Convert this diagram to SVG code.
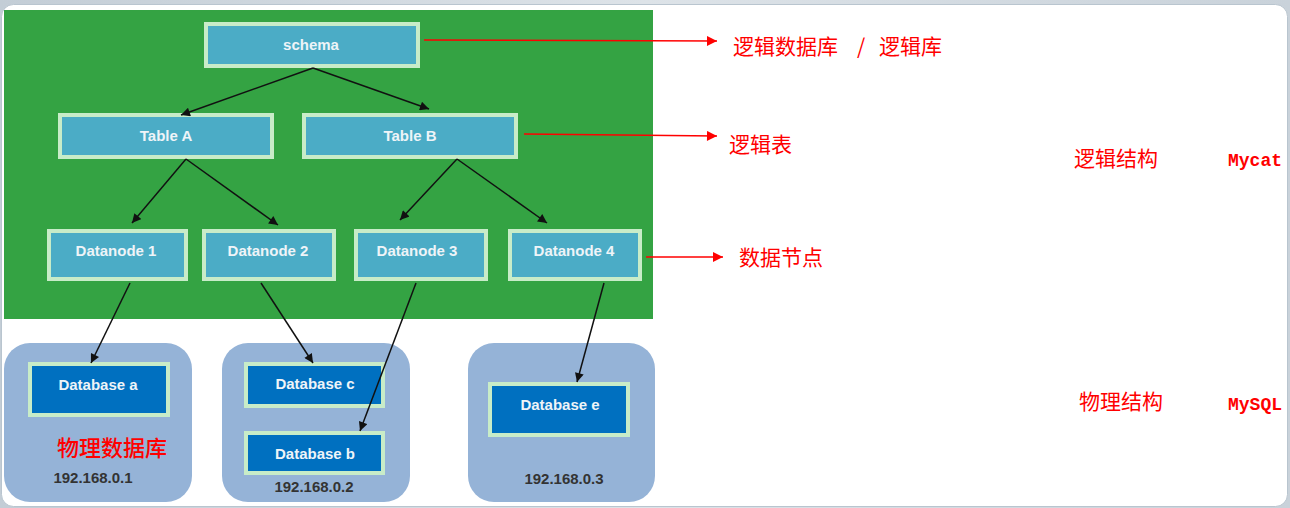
<svg xmlns="http://www.w3.org/2000/svg" width="1290" height="508" viewBox="0 0 1290 508">
<defs>
<marker id="ah" viewBox="0 0 10 10" refX="10" refY="5" markerWidth="10" markerHeight="9" markerUnits="userSpaceOnUse" orient="auto">
<path d="M0,0 L10,5 L0,10 z" fill="#111"/>
</marker>
<marker id="ar" viewBox="0 0 10 10" refX="10" refY="5" markerWidth="13" markerHeight="10" markerUnits="userSpaceOnUse" orient="auto">
<path d="M0,0 L10,5 L0,10 z" fill="#ff0000"/>
</marker>
<linearGradient id="bg" x1="0" y1="0" x2="1" y2="0">
<stop offset="0" stop-color="#c3cdd6"/>
<stop offset="0.5" stop-color="#dde3e8"/>
<stop offset="1" stop-color="#c9d2da"/>
</linearGradient>
</defs>
<style>
.node rect.n{fill:#4bacc6;stroke:#c8ecc8;stroke-width:4}
.node rect.d{fill:#0070c0;stroke:#c8ecc8;stroke-width:4}
.node text{font-family:"Liberation Sans",Arial,sans-serif;font-weight:bold;font-size:15px;fill:#eef4f8;text-anchor:middle;dominant-baseline:central}
.host{fill:#95b3d7}
.ip{font-family:"Liberation Sans",Arial,sans-serif;font-weight:bold;font-size:15px;fill:#333;text-anchor:middle;dominant-baseline:central}
.lbl{font-family:"Noto Sans CJK SC","Liberation Sans",sans-serif;font-size:21px;fill:#ff0000;dominant-baseline:central}
.mono{font-family:"Liberation Mono","Courier New",monospace;font-size:18px;font-weight:bold;fill:#ff0000;dominant-baseline:central}
.c{stroke:#111;stroke-width:1.5;fill:none;marker-end:url(#ah)}
.r{stroke:#ff0000;stroke-width:1.5;fill:none;marker-end:url(#ar)}
</style>
<rect x="0" y="0" width="1290" height="508" fill="url(#bg)"/>
<rect x="1.5" y="4.5" width="1286" height="502" rx="12" fill="#ffffff" stroke="#b9c5cf"/>
<rect x="4" y="10" width="649" height="309" fill="#34a343"/>

<g id="host1"><rect class="host" x="4" y="343" width="188" height="159" rx="26"/></g>
<g id="host2"><rect class="host" x="222" y="343" width="188" height="159" rx="26"/></g>
<g id="host3"><rect class="host" x="468" y="343" width="187" height="159" rx="26"/></g>

<g id="schema" class="node"><rect class="n" x="206" y="24" width="212" height="42"/><text x="311" y="44">schema</text></g>
<g id="tableA" class="node"><rect class="n" x="60" y="115" width="212" height="42"/><text x="166" y="135">Table A</text></g>
<g id="tableB" class="node"><rect class="n" x="304" y="115" width="212" height="42"/><text x="410" y="135">Table B</text></g>
<g id="dn1" class="node"><rect class="n" x="49" y="231" width="137" height="48"/><text x="116" y="250">Datanode 1</text></g>
<g id="dn2" class="node"><rect class="n" x="204" y="231" width="130" height="48"/><text x="268" y="250">Datanode 2</text></g>
<g id="dn3" class="node"><rect class="n" x="356" y="231" width="130" height="48"/><text x="417" y="250">Datanode 3</text></g>
<g id="dn4" class="node"><rect class="n" x="510" y="231" width="130" height="48"/><text x="574" y="250">Datanode 4</text></g>
<g id="dba" class="node"><rect class="d" x="30" y="364" width="138" height="51"/><text x="98" y="384">Database a</text></g>
<g id="dbc" class="node"><rect class="d" x="246" y="364" width="137" height="42"/><text x="315" y="383">Database c</text></g>
<g id="dbb" class="node"><rect class="d" x="246" y="433" width="137" height="40"/><text x="315" y="453">Database b</text></g>
<g id="dbe" class="node"><rect class="d" x="490" y="384" width="138" height="51"/><text x="560" y="404">Database e</text></g>

<g id="connectors">
<line class="c" x1="313" y1="68" x2="181" y2="115"/>
<line class="c" x1="313" y1="68" x2="429" y2="109"/>
<line class="c" x1="186" y1="159" x2="132" y2="223"/>
<line class="c" x1="186" y1="159" x2="278" y2="225"/>
<line class="c" x1="457" y1="159" x2="400" y2="220"/>
<line class="c" x1="457" y1="159" x2="547" y2="223"/>
<line class="c" x1="130" y1="283" x2="91" y2="363"/>
<line class="c" x1="261" y1="283" x2="313" y2="363"/>
<line class="c" x1="416" y1="283" x2="360" y2="431"/>
<line class="c" x1="604" y1="283" x2="577" y2="382"/>
<line class="r" x1="424" y1="40" x2="717" y2="41"/>
<line class="r" x1="524" y1="134" x2="717" y2="136"/>
<line class="r" x1="646" y1="257" x2="723" y2="257"/>
</g>

<g id="labels">
<text class="lbl" x="733" y="45">逻辑数据库</text>
<text class="lbl" x="857" y="45">/</text>
<text class="lbl" x="879" y="45">逻辑库</text>
<text class="lbl" x="729" y="143">逻辑表</text>
<text class="lbl" x="739" y="256">数据节点</text>
<text class="lbl" x="1074" y="157">逻辑结构</text>
<text class="mono" x="1228" y="161">Mycat</text>
<text class="lbl" x="1079" y="400">物理结构</text>
<text class="mono" x="1228" y="405">MySQL</text>
<text class="lbl" x="57" y="446" style="font-size:22px;font-weight:500">物理数据库</text>
<text class="ip" x="93" y="477">192.168.0.1</text>
<text class="ip" x="314" y="486">192.168.0.2</text>
<text class="ip" x="564" y="478">192.168.0.3</text>
</g>
</svg>
